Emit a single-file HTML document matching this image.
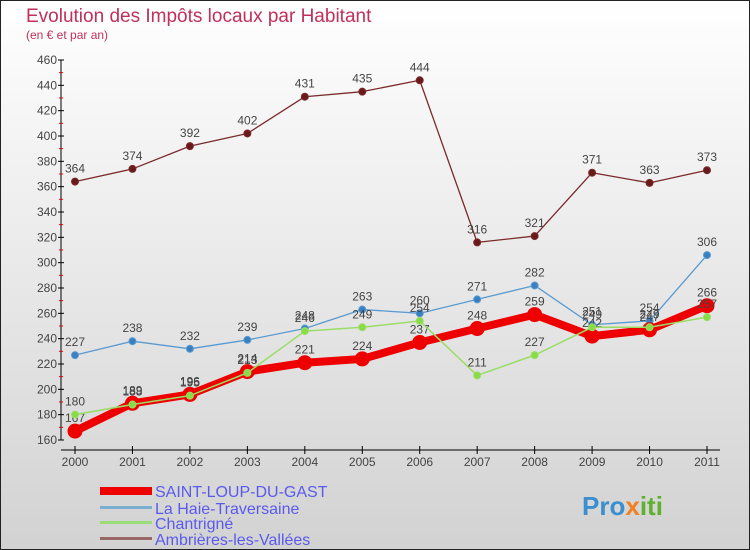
<!DOCTYPE html>
<html><head><meta charset="utf-8"><style>
body{margin:0;}
svg{display:block;font-family:"Liberation Sans",sans-serif;}
</style></head><body>
<svg id="c" width="750" height="550" viewBox="0 0 750 550">
<defs><linearGradient id="bg" x1="0" y1="0" x2="0" y2="1"><stop offset="0" stop-color="#ffffff"/><stop offset="1" stop-color="#d2d2d2"/></linearGradient></defs>
<rect x="0.5" y="0.5" width="749" height="549" fill="url(#bg)" stroke="#222"/>
<text x="26" y="22" font-size="19" fill="#c0305a">Evolution des Impôts locaux par Habitant</text>
<text x="26" y="39" font-size="12" fill="#c0305a">(en € et par an)</text>
<g id="axes"></g>
<g id="series"></g>
<g id="legend" font-size="16" fill="#5a5aee">
<rect x="100" y="487" width="52" height="8" fill="#e00"/>
<text x="155" y="497" fill="#5a5aee">SAINT-LOUP-DU-GAST</text>
<rect x="100" y="506" width="52" height="3" fill="#7aaed0"/>
<text x="155" y="514" fill="#5a5aee">La Haie-Traversaine</text>
<rect x="100" y="521" width="52" height="3" fill="#99dd77"/>
<text x="155" y="529" fill="#5a5aee">Chantrigné</text>
<rect x="100" y="537" width="52" height="3" fill="#996666"/>
<text x="155" y="545" fill="#5a5aee">Ambrières-les-Vallées</text>
</g>
<text x="582" y="515" font-size="26" font-weight="bold" fill="#3a8fd0">Pro<tspan fill="#f08020">x</tspan><tspan fill="#60b030">iti</tspan></text>
</svg>
<script>
const years=[2000,2001,2002,2003,2004,2005,2006,2007,2008,2009,2010,2011];
const yTicks=[160,180,200,220,240,260,280,300,320,340,360,380,400,420,440,460];
const saintLoup=[167,189,196,214,221,224,237,248,259,242,247,266];
const laHaie=[227,238,232,239,248,263,260,271,282,251,254,306];
const chantrigne=[180,188,195,213,246,249,254,211,227,249,249,257];
const ambrieres=[364,374,392,402,431,435,444,316,321,371,363,373];
const NS='http://www.w3.org/2000/svg';
const X=i=>75+i*(707-75)/(years.length-1);
const Y=v=>440-(v-160)*380/300;
function mk(t,a,p){const e=document.createElementNS(NS,t);for(const k in a)e.setAttribute(k,a[k]);p.appendChild(e);return e;}
const ax=document.getElementById('axes');
let l=mk('line',{x1:61,y1:60,x2:61,y2:440,stroke:'#000'},ax);


l=mk('line',{x1:61,y1:450,x2:720,y2:450,stroke:'#000'},ax);


yTicks.forEach((v,i)=>{
 const y=Y(v);
 mk('line',{x1:58,y1:y,x2:64,y2:y,stroke:'#000'},ax);
 if(i<yTicks.length-1) mk('line',{x1:59,y1:y-12.7,x2:63,y2:y-12.7,stroke:'#e00'},ax);
 const t=mk('text',{x:57,y:y+4,'font-size':12,'text-anchor':'end',fill:'#444'},ax);
 t.textContent=v;
 
 
});
years.forEach((yr,i)=>{
 mk('line',{x1:X(i),y1:446,x2:X(i),y2:454,stroke:'#000'},ax);
 const t=mk('text',{x:X(i),y:466,'font-size':12,'text-anchor':'middle',fill:'#444'},ax);
 t.textContent=yr;
 
 
});
const sg=document.getElementById('series');
function series(vals,color,w,r,name,pointFill){
 const g=mk('g',{},sg);
 
 
 const pl=mk('polyline',{points:vals.map((v,i)=>X(i)+','+Y(v)).join(' '),fill:'none',stroke:color,'stroke-width':w,'stroke-linejoin':'round'},g);
 
 
 vals.forEach((v,i)=>{
  const c=mk('circle',{cx:X(i),cy:Y(v),r:r,fill:pointFill,stroke:color,'stroke-width':1},g);
  
  
  const t=mk('text',{x:X(i),y:Y(v)-9,'font-size':12,'text-anchor':'middle',fill:'#444'},g);
  t.textContent=v;
  
  
 });
}
series(ambrieres,'#7a2a2a',1.3,3.5,'ambrieres-series','#6a1a1a');
series(laHaie,'#5a9ad0',1.3,3.5,'la-haie-series','#3a80c0');
series(saintLoup,'#ee0000',8,7,'saint-loup-series','#ee0000');
series(chantrigne,'#99dd66',1.5,3.5,'chantrigne-series','#88dd44');
</script>
</body></html>
